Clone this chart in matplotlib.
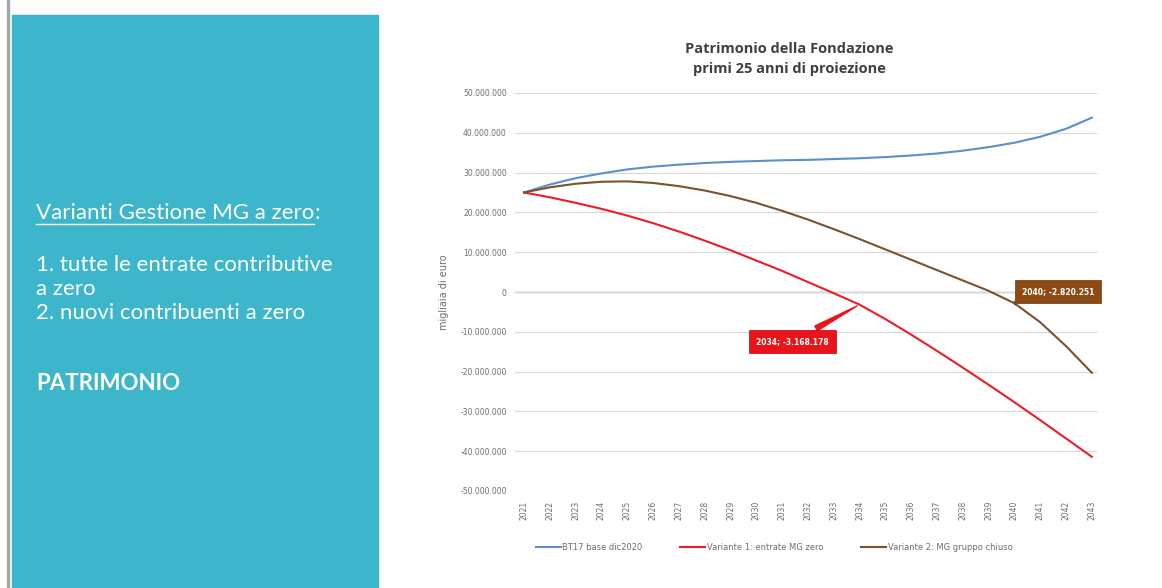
import matplotlib
import matplotlib.pyplot as plt
from matplotlib.patches import Rectangle
from matplotlib.ticker import FuncFormatter, MultipleLocator

matplotlib.use("Agg")

# anni di proiezione
anni = list(range(2021, 2044))

# patrimonio (milioni di euro)
bt17_base = [25.0, 27.0, 28.6, 29.8, 30.8, 31.5, 32.0, 32.4, 32.7, 32.9, 33.1,
             33.2, 33.4, 33.6, 33.9, 34.3, 34.8, 35.5, 36.4, 37.5, 39.0, 41.0,
             43.8]
variante_1 = [25.0, 23.8, 22.4, 20.9, 19.2, 17.3, 15.2, 12.9, 10.5, 7.9, 5.3,
              2.5, -0.3, -3.168178, -6.8, -10.7, -14.8, -19.0, -23.3, -27.7,
              -32.2, -36.8, -41.4]
variante_2 = [25.0, 26.3, 27.2, 27.7, 27.8, 27.4, 26.6, 25.5, 24.1, 22.4, 20.4,
              18.2, 15.8, 13.3, 10.7, 8.1, 5.5, 2.9, 0.3, -2.820251, -7.6,
              -13.6, -20.3]
bt17_base = [v * 1e6 for v in bt17_base]
variante_1 = [v * 1e6 for v in variante_1]
variante_2 = [v * 1e6 for v in variante_2]

serie_nomi = ["BT17 base dic2020", "Variante 1: entrate MG zero",
              "Variante 2: MG gruppo chiuso"]
serie_colori = ["#5B8FCB", "#EE1C25", "#7A5230"]

TESTO_GRIGIO = "#6E6E6E"
TEAL = "#3DB6CC"


def fmt_it(v, pos=None):
    """
    Description:
        Format a number the Italian way (dots as thousands separator).
    """
    s = f"{abs(int(round(v))):,}".replace(",", ".")
    return ("-" + s) if v < 0 else s


fig = plt.figure(figsize=(11.62, 5.88), dpi=100)
fig.patch.set_facecolor("white")

# pannello di sinistra
fig.patches.append(Rectangle((12 / 1162, 0), 366 / 1162, 573 / 588,
                             transform=fig.transFigure, color=TEAL,
                             zorder=0))
fig.patches.append(Rectangle((7 / 1162, 0), 2 / 1162, 1,
                             transform=fig.transFigure, color="#A6A6A6",
                             zorder=0))

panel_font = "Lato"
fs = 16
x0 = 36 / 1162
t = fig.text(x0, 1 - 213 / 588, "Varianti Gestione MG a zero",
             color="white", fontsize=fs, family=panel_font, va="center")
fig.canvas.draw()
bb = t.get_window_extent()
fig.text(bb.x1 / 1162, 1 - 213 / 588, ":", color="white", fontsize=fs,
         family=panel_font, va="center")
uy = bb.y0 - 1
fig.add_artist(plt.Line2D([bb.x0 / 1162, bb.x1 / 1162],
                          [uy / 588, uy / 588], color="white", lw=1,
                          transform=fig.transFigure))
fig.text(x0, 1 - 265 / 588, "1. tutte le entrate contributive",
         color="white", fontsize=fs, family=panel_font, va="center")
fig.text(x0, 1 - 289 / 588, "a zero", color="white", fontsize=fs,
         family=panel_font, va="center")
fig.text(x0, 1 - 313 / 588, "2. nuovi contribuenti a zero",
         color="white", fontsize=fs, family=panel_font, va="center")
fig.text(x0, 1 - 383 / 588, "PATRIMONIO", color="white",
         fontsize=fs, family=panel_font, weight="bold", va="center")

# grafico
ax = fig.add_axes([515 / 1162, 1 - 491 / 588, 582 / 1162, 398 / 588])
for valori, nome, col in zip([bt17_base, variante_1, variante_2],
                             serie_nomi, serie_colori):
    ax.plot(anni, valori, color=col, lw=1.5, label=nome, zorder=3)

ax.set_ylim(-50e6, 50e6)
ax.set_xlim(anni[0] - 0.35, anni[-1] + 0.2)
ax.yaxis.set_major_locator(MultipleLocator(10e6))
ax.yaxis.set_major_formatter(FuncFormatter(fmt_it))
ax.set_xticks(anni)
ax.set_xticklabels([str(a) for a in anni], rotation=90)
ax.tick_params(axis="both", length=0, labelsize=5.5, labelcolor=TESTO_GRIGIO)
ax.tick_params(axis="y", pad=6)
ax.tick_params(axis="x", pad=7)
ax.grid(axis="y", color="#D9D9D9", lw=0.8, zorder=0)
ax.axhline(0, color="#9A9A9A", lw=1, zorder=1)
for s in ax.spines.values():
    s.set_visible(False)
ax.set_ylabel("migliaia di euro", fontsize=7, color=TESTO_GRIGIO,
              labelpad=8)

fig.text(789 / 1162, 1 - 59 / 588,
         "Patrimonio della Fondazione\nprimi 25 anni di proiezione",
         fontsize=10.5, color="#404040", weight="bold", ha="center",
         va="center", family="Open Sans", linespacing=1.6)

# etichette dati
i1 = anni.index(2034)
ax.annotate(f"2034; {fmt_it(variante_1[i1])}", xy=(2034, variante_1[i1]),
            xytext=(2031.4, -12.4e6), ha="center", va="center",
            fontsize=5.5, color="white", weight="bold",
            bbox=dict(boxstyle="square,pad=0.9", fc="#E8141C", ec="#C00000",
                      lw=0.5),
            arrowprops=dict(arrowstyle="wedge,tail_width=0.7",
                            fc="#E8141C", ec="#E8141C"), zorder=5)
i2 = anni.index(2040)
ax.annotate(f"2040; {fmt_it(variante_2[i2])}", xy=(2040, variante_2[i2]),
            xytext=(2041.7, 0.1e6), ha="center", va="center",
            fontsize=5.5, color="white", weight="bold",
            bbox=dict(boxstyle="square,pad=0.9", fc="#8E4A14", ec="#6B3A10",
                      lw=0.5),
            arrowprops=dict(arrowstyle="wedge,tail_width=0.5",
                            fc="#8E4A14", ec="#8E4A14"), zorder=5,
            annotation_clip=False)

ax.legend(loc="center", bbox_to_anchor=((774 - 515) / 582, -0.143), ncol=3,
          frameon=False, fontsize=6, labelcolor=TESTO_GRIGIO,
          handlelength=3.0, columnspacing=4.5, handletextpad=0.2)

fig.savefig("out.png", dpi=100)
